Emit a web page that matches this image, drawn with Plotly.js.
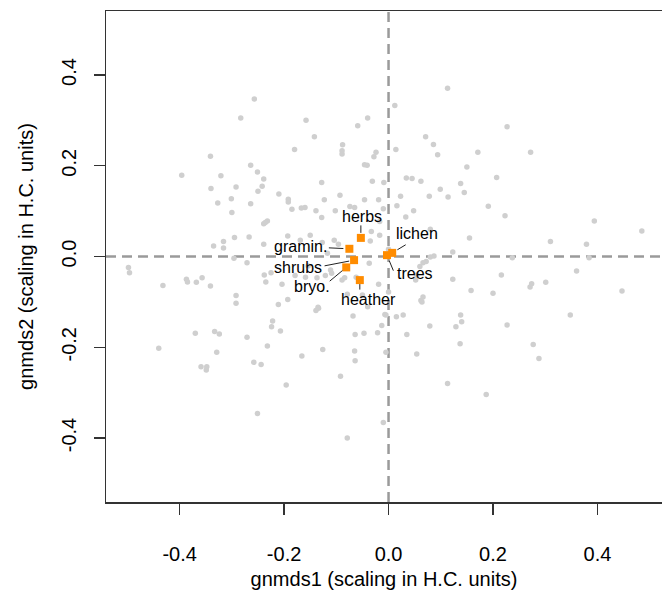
<!DOCTYPE html>
<html>
<head>
<meta charset="utf-8">
<script src="https://cdn.plot.ly/plotly-3.0.1.min.js"></script>
<style>html,body{margin:0;padding:0;background:#fff;}#chart{width:662px;height:602px;}</style>
</head>
<body>
<div id="chart"></div>
<script>
// Site scores (grey points), gnmds1 / gnmds2
const siteX = [
 -0.257,-0.283,-0.158,-0.040,-0.059,-0.142,-0.180,-0.088,-0.089,-0.089,-0.024,-0.028,-0.341,-0.396,-0.321,-0.264,-0.251,-0.239,-0.242,-0.250,
 -0.340,-0.292,-0.327,-0.301,-0.300,-0.264,-0.210,-0.192,-0.192,-0.185,-0.167,-0.160,-0.139,-0.128,-0.123,-0.128,-0.093,-0.074,-0.065,-0.046,
 -0.041,-0.031,-0.009,-0.046,-0.019,-0.017,-0.035,-0.239,-0.232,-0.236,-0.295,-0.267,-0.335,-0.316,-0.316,-0.239,-0.193,-0.169,-0.150,-0.127,
 -0.104,-0.296,-0.102,-0.017,-0.033,-0.096,-0.117,
 -0.498,-0.496,-0.432,-0.387,-0.385,-0.368,-0.357,-0.341,-0.292,-0.292,-0.271,-0.370,-0.333,-0.324,-0.440,-0.329,-0.359,-0.348,-0.349,-0.271,
 -0.258,-0.244,-0.232,-0.222,-0.224,-0.207,-0.211,-0.193,-0.235,-0.225,-0.179,-0.159,-0.137,-0.121,-0.109,-0.139,-0.134,-0.166,-0.126,-0.196,
 -0.251,-0.092,-0.079,-0.068,-0.064,-0.047,-0.065,-0.064,-0.021,-0.013,-0.010,-0.005,-0.005,-0.019,-0.037,-0.084,-0.062,-0.089,-0.111,-0.154,
 -0.204,-0.135,-0.079,-0.050,-0.040,0.000,-0.238,
 0.113,0.012,0.014,0.227,0.071,0.086,0.094,0.171,0.272,0.150,0.034,0.045,0.062,0.138,0.207,0.099,0.145,0.078,0.114,0.016,
 -0.010,0.033,0.191,0.223,0.394,0.485,0.155,0.310,0.379,0.123,0.080,0.087,0.000,0.023,0.048,0.080,
 0.072,0.237,0.384,0.060,0.052,0.123,0.216,0.360,0.158,0.200,0.271,0.274,0.301,0.447,0.062,0.028,-0.007,0.079,0.138,0.140,
 0.129,0.227,0.348,0.035,0.137,0.054,0.277,0.288,0.113,0.187,0.066,0.054,0.066,0.015,0.064
];
const siteY = [
 0.347,0.305,0.300,0.305,0.288,0.264,0.236,0.246,0.233,0.226,0.230,0.220,0.221,0.179,0.178,0.201,0.186,0.171,0.155,0.144,
 0.150,0.153,0.118,0.127,0.097,0.116,0.138,0.126,0.120,0.104,0.107,0.108,0.101,0.163,0.125,0.086,0.135,0.110,0.108,0.202,
 0.201,0.166,0.163,0.125,0.125,0.047,0.034,0.072,0.078,0.075,0.042,0.043,0.023,0.033,0.019,0.027,0.045,0.036,0.047,0.031,
 0.036,-0.004,0.101,0.077,0.055,0.027,0.007,
 -0.024,-0.036,-0.064,-0.050,-0.056,-0.057,-0.047,-0.065,-0.086,-0.103,-0.014,-0.169,-0.165,-0.171,-0.202,-0.211,-0.243,-0.243,-0.250,-0.178,
 -0.233,-0.238,-0.197,-0.142,-0.155,-0.164,-0.106,-0.095,-0.056,-0.036,-0.042,-0.046,-0.047,-0.042,-0.037,-0.119,-0.114,-0.219,-0.205,-0.283,
 -0.346,-0.264,-0.400,-0.131,-0.172,-0.169,-0.208,-0.230,-0.168,-0.152,-0.366,-0.129,-0.211,-0.061,-0.015,-0.047,-0.046,-0.052,-0.030,-0.021,
 -0.061,-0.112,-0.083,-0.085,-0.111,-0.078,-0.041,
 0.371,0.333,0.236,0.286,0.264,0.247,0.224,0.230,0.230,0.197,0.173,0.172,0.166,0.161,0.174,0.148,0.141,0.133,0.131,0.112,
 0.105,0.087,0.111,0.090,0.078,0.056,0.041,0.033,0.027,0.010,-0.001,0.001,0.016,0.133,0.101,0.060,
 -0.011,-0.003,-0.003,-0.022,-0.052,-0.050,-0.041,-0.032,-0.075,-0.081,-0.067,-0.060,-0.057,-0.076,-0.097,-0.129,-0.128,-0.153,-0.129,-0.144,
 -0.155,-0.151,-0.129,-0.172,-0.192,-0.215,-0.194,-0.225,-0.280,-0.304,-0.014,-0.041,-0.089,-0.133,-0.100
];

// Species groups (orange squares)
const groupNames = ["herbs","gramin.","shrubs","bryo.","heather","lichen","trees"];
const groupX = [-0.053,-0.075,-0.066,-0.081,-0.055,0.007,-0.003];
const groupY = [0.041,0.017,-0.008,-0.024,-0.052,0.008,0.003];

// label placement (pixel offsets) and leader lines
const labelShift = {
  "herbs":[1,21],"gramin.":[-49,2],"shrubs":[-56,-7],"bryo.":[-34,-19],
  "heather":[9,-19],"lichen":[25,19],"trees":[28,-18]
};
const leader = {
  "herbs":[0,-14,5],"gramin.":[-22,-1,6],"shrubs":[-31,6,5],"bryo.":[-18,15,5],
  "heather":[0,11,4],"lichen":[15,-9,6],"trees":[7,17,6]
};

const FONT = "Liberation Sans, Arial, sans-serif";

const traces = [
  {x: siteX, y: siteY, type: "scatter", mode: "markers",
   marker: {color: "#cfcfcf", size: 5.5}, hoverinfo: "skip", showlegend: false},
  {x: groupX, y: groupY, type: "scatter", mode: "markers",
   marker: {color: "#ff8c00", size: 8, symbol: "square"}, text: groupNames, showlegend: false}
];

const annotations = [];
groupNames.forEach((n, i) => {
  const s = labelShift[n];
  annotations.push({x: groupX[i], y: groupY[i], xref: "x", yref: "y", text: n, showarrow: false,
    xshift: s[0], yshift: s[1], font: {family: FONT, size: 16, color: "#000"}});
  const l = leader[n];
  annotations.push({x: groupX[i], y: groupY[i], xref: "x", yref: "y", text: "", showarrow: true,
    arrowhead: 0, arrowwidth: 1, arrowcolor: "#222", ax: l[0], ay: l[1], standoff: l[2]});
});

const layout = {
  width: 662, height: 602,
  margin: {l: 106, r: 0, t: 11, b: 100},
  paper_bgcolor: "#fff", plot_bgcolor: "#fff",
  font: {family: FONT, color: "#000"},
  showlegend: false,
  xaxis: {
    range: [-0.541, 0.5236], showgrid: false, zeroline: false,
    showline: true, mirror: true, linecolor: "#333", linewidth: 1.5,
    ticks: "outside", ticklen: 11, tickwidth: 1.3, tickcolor: "#333",
    tickvals: [-0.4,-0.2,0,0.2,0.4], ticktext: ["-0.4","-0.2","0.0","0.2","0.4"],
    tickfont: {family: FONT, size: 20, color: "#000"}, ticklabelstandoff: 22,
    title: {text: "gnmds1 (scaling in H.C. units)", font: {family: FONT, size: 20, color: "#000"}, standoff: 8}
  },
  yaxis: {
    range: [-0.541, 0.541], showgrid: false, zeroline: false,
    showline: true, linecolor: "#333", linewidth: 1.5,
    ticks: "outside", ticklen: 11, tickwidth: 1.3, tickcolor: "#333",
    tickvals: [-0.4,-0.2,0,0.2,0.4], ticktext: ["-0.4","-0.2","0.0","0.2","0.4"],
    tickangle: -90,
    tickfont: {family: FONT, size: 20, color: "#000"}, ticklabelstandoff: 10,
    title: {text: "gnmds2 (scaling in H.C. units)", font: {family: FONT, size: 20, color: "#000"}, standoff: 18}
  },
  shapes: [
    {type: "line", xref: "x", yref: "paper", x0: 0, x1: 0, y0: 0, y1: 1,
     line: {color: "#9a9a9a", width: 2.5, dash: "10px,6px"}, layer: "below"},
    {type: "line", xref: "paper", yref: "y", x0: 0, x1: 1, y0: 0, y1: 0,
     line: {color: "#9a9a9a", width: 2.5, dash: "10px,6px"}, layer: "below"}
  ],
  annotations: annotations
};

Plotly.newPlot("chart", traces, layout, {displayModeBar: false, staticPlot: true});
</script>
</body>
</html>
